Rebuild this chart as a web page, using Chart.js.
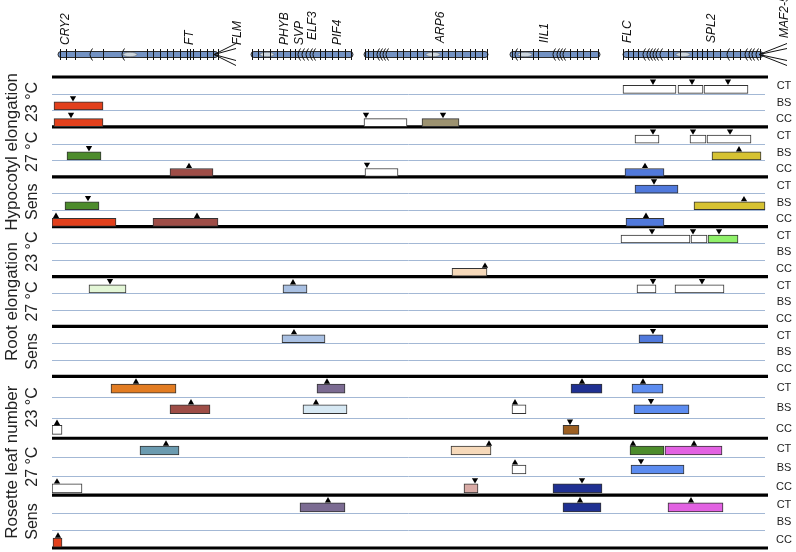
<!DOCTYPE html>
<html>
<head>
<meta charset="utf-8">
<script src="https://cdn.jsdelivr.net/npm/chart.js@4/dist/chart.umd.min.js"></script>
<style>
  body { margin: 0; background: #fff; }
  #wrap { width: 796px; height: 552px; }
</style>
</head>
<body>
<div id="wrap"><canvas id="chart" width="796" height="552"></canvas></div>
<script>
// Labels
const traits = ['Hypocotyl elongation', 'Root elongation', 'Rosette leaf number'];
const conditions = ['23 °C', '27 °C', 'Sens'];
const populations = ['CT', 'BS', 'CC'];

// Genes marked on the map (map units along the concatenated genome)
const geneNames = ['CRY2', 'FT', 'FLM', 'PHYB', 'SVP', 'ELF3', 'PIF4', 'ARP6', 'IIL1', 'FLC', 'SPL2', 'MAF2-5'];
const genePos   = [14, 138, 186, 233, 248, 261, 286, 389, 493, 576, 660, 733];
const geneLift  = [0, 0, 0, 0, 0, 5, 0, 2, 2, 2, 2, 7];

// Chromosomes
const chromStart = [6, 199, 312, 458, 571];
const chromEnd   = [166, 301, 436, 548, 711];
const centromere = [78, 215, 381, 473, 631];
const markers = [
  [8, 14, 23, 51, 95, 101, 108, 115, 121, 128, 135, 138, 141, 148, 155, 161, 166],
  [200, 206, 211, 218, 225, 231, 238, 243, 268, 273, 280, 286, 293, 299],
  [313, 316, 321, 345, 351, 358, 365, 371, 380, 390, 396, 403, 410, 418, 423, 430, 435],
  [460, 468, 481, 486, 518, 525, 531, 538, 546],
  [571, 576, 581, 586, 616, 621, 628, 640, 645, 650, 655, 661, 668, 681, 688, 708]
];
const bentMarkers = [38, 70, 246, 250, 254, 258, 261, 325, 328, 331, 334,
  463, 501, 505, 508, 511, 591, 595, 598, 601, 604, 608, 675, 693, 697, 700, 704];

// QTL: condition, population, start, end, peak, effect direction, allele
const hypocotylQTL = [
  ['23 °C', 'CT', 571, 624, 601, 'down', 'white'],
  ['23 °C', 'CT', 626, 651, 640, 'down', 'white'],
  ['23 °C', 'CT', 652, 696, 676, 'down', 'white'],
  ['23 °C', 'BS', 2, 51, 21, 'down', 'red'],
  ['23 °C', 'CC', 2, 51, 19, 'down', 'red'],
  ['23 °C', 'CC', 312, 355, 314, 'down', 'white'],
  ['23 °C', 'CC', 370, 407, 391, 'down', 'olive'],
  ['27 °C', 'CT', 583, 607, 601, 'down', 'white'],
  ['27 °C', 'CT', 638, 654, 641, 'down', 'white'],
  ['27 °C', 'CT', 655, 699, 678, 'down', 'white'],
  ['27 °C', 'BS', 15, 49, 37, 'down', 'green'],
  ['27 °C', 'BS', 660, 709, 687, 'up', 'yellow'],
  ['27 °C', 'CC', 118, 161, 137, 'up', 'brick'],
  ['27 °C', 'CC', 313, 346, 315, 'down', 'white'],
  ['27 °C', 'CC', 573, 612, 593, 'up', 'blue'],
  ['Sens', 'CT', 583, 626, 602, 'down', 'blue'],
  ['Sens', 'BS', 13, 47, 36, 'down', 'green'],
  ['Sens', 'BS', 642, 713, 692, 'up', 'yellow'],
  ['Sens', 'CC', 0, 64, 4, 'up', 'red'],
  ['Sens', 'CC', 101, 166, 145, 'up', 'brick'],
  ['Sens', 'CC', 574, 612, 594, 'up', 'blue']
];
const rootQTL = [
  ['23 °C', 'CT', 569, 638, 600, 'down', 'white'],
  ['23 °C', 'CT', 639, 655, 641, 'down', 'white'],
  ['23 °C', 'CT', 656, 686, 667, 'down', 'lime'],
  ['23 °C', 'CC', 400, 435, 433, 'up', 'peach'],
  ['27 °C', 'CT', 37, 74, 58, 'down', 'mint'],
  ['27 °C', 'CT', 231, 255, 241, 'up', 'sky'],
  ['27 °C', 'CT', 585, 604, 601, 'down', 'white'],
  ['27 °C', 'CT', 623, 672, 650, 'down', 'white'],
  ['Sens', 'CT', 230, 273, 242, 'up', 'sky'],
  ['Sens', 'CT', 587, 611, 601, 'down', 'blue']
];
const rosetteQTL = [
  ['23 °C', 'CT', 59, 124, 84, 'up', 'orange'],
  ['23 °C', 'CT', 265, 293, 275, 'up', 'mauve'],
  ['23 °C', 'CT', 519, 550, 530, 'up', 'navy'],
  ['23 °C', 'CT', 580, 611, 591, 'up', 'cornflower'],
  ['23 °C', 'BS', 118, 158, 139, 'up', 'brick'],
  ['23 °C', 'BS', 251, 295, 264, 'up', 'ice'],
  ['23 °C', 'BS', 460, 474, 463, 'up', 'white'],
  ['23 °C', 'BS', 582, 637, 599, 'down', 'cornflower'],
  ['23 °C', 'CC', 0, 10, 5, 'up', 'white'],
  ['23 °C', 'CC', 511, 527, 518, 'down', 'brown'],
  ['27 °C', 'CT', 88, 127, 114, 'up', 'teal'],
  ['27 °C', 'CT', 399, 439, 437, 'up', 'peach'],
  ['27 °C', 'CT', 578, 612, 581, 'up', 'green'],
  ['27 °C', 'CT', 613, 670, 642, 'up', 'magenta'],
  ['27 °C', 'BS', 460, 474, 463, 'up', 'white'],
  ['27 °C', 'BS', 579, 632, 589, 'down', 'cornflower'],
  ['27 °C', 'CC', 0, 30, 5, 'up', 'white'],
  ['27 °C', 'CC', 412, 426, 423, 'down', 'rose'],
  ['27 °C', 'CC', 501, 550, 530, 'down', 'navy'],
  ['Sens', 'CT', 248, 293, 276, 'up', 'mauve'],
  ['Sens', 'CT', 511, 549, 528, 'up', 'navy'],
  ['Sens', 'CT', 616, 671, 639, 'up', 'magenta'],
  ['Sens', 'CC', 1, 10, 6, 'up', 'red']
];

const alleleColours = {
  white: '#ffffff', red: '#e2401c', olive: '#9c9270', green: '#4d8c2c', yellow: '#d6c232',
  brick: '#9e4d47', blue: '#5079dc', lime: '#8ff06a', peach: '#f6d9ba', mint: '#e3f6d6',
  sky: '#a9c0e2', orange: '#e27c22', mauve: '#7b6b92', navy: '#1f3092', cornflower: '#5c8cf0',
  ice: '#d6e8f3', brown: '#9c5f22', teal: '#6b9bb0', magenta: '#e262e2', rose: '#d9aba6'
};

// Layout of the rows
const PAD = { left: 52, right: 28, top: 77, bottom: 4 };
const groupSpan = [3, 3, 3, 3, 3, 3, 3.72, 3.42, 3.18];
const groupTop = [];
let acc = 0;
groupSpan.forEach(s => { groupTop.push(acc); acc += s; });
const totalSpan = acc;
const ppu = (552 - PAD.top - PAD.bottom) / totalSpan;   // pixels per row unit
const barThick = [8, 8, 9];

function rowTop(t, c, p) {
  const g = t * 3 + c;
  return groupTop[g] + p * groupSpan[g] / 3;
}

const allQTL = [hypocotylQTL, rootQTL, rosetteQTL];
const barSets = [];
const peakPts = [], peakRot = [];
allQTL.forEach((list, t) => {
  const data = [], colours = [];
  list.forEach(q => {
    const c = conditions.indexOf(q[0]), p = populations.indexOf(q[1]);
    const yc = rowTop(t, c, p) + 12.3 / ppu;
    data.push({ y: yc, x: [q[2], q[3]] });
    colours.push(alleleColours[q[6]]);
    const top = yc - barThick[t] / 2 / ppu;
    const up = q[5] === 'up';
    peakPts.push({ x: q[4], y: top - (up ? 2.2 : 4.0) / ppu });
    peakRot.push(up ? 0 : 180);
  });
  barSets.push({
    type: 'bar',
    indexAxis: 'y',
    data: data,
    backgroundColor: colours,
    borderColor: '#333333',
    borderWidth: 1,
    borderSkipped: false,
    barThickness: barThick[t],
    grouped: false,
    order: 2
  });
});

// Grid lines, labels and the genome map
const mapPlugin = {
  id: 'mapPlugin',
  beforeDatasetsDraw(chart) {
    const ctx = chart.ctx, y = chart.scales.y;
    ctx.save();
    ctx.strokeStyle = '#a3b8d5';
    ctx.lineWidth = 1;
    groupSpan.forEach((s, g) => {
      for (let r = 1; r < 3; r++) {
        const py = Math.round(y.getPixelForValue(groupTop[g] + r * s / 3)) + 0.5;
        ctx.beginPath(); ctx.moveTo(52, py); ctx.lineTo(765, py); ctx.stroke();
      }
    });
    ctx.strokeStyle = '#000';
    ctx.lineWidth = 3.2;
    groupTop.concat([totalSpan]).forEach(v => {
      const py = y.getPixelForValue(v);
      ctx.beginPath(); ctx.moveTo(52, py); ctx.lineTo(768, py); ctx.stroke();
    });
    ctx.restore();
  },
  afterDraw(chart) {
    const ctx = chart.ctx, x = chart.scales.x, y = chart.scales.y;
    ctx.save();
    ctx.fillStyle = '#222';
    // population labels
    ctx.font = '11px "Liberation Sans", Arial, sans-serif';
    ctx.textAlign = 'center';
    ctx.textBaseline = 'middle';
    for (let t = 0; t < 3; t++) for (let c = 0; c < 3; c++) for (let p = 0; p < 3; p++) {
      const h = groupSpan[t * 3 + c] / 3;
      ctx.fillText(populations[p], 784, y.getPixelForValue(rowTop(t, c, p) + 0.55 * h));
    }
    // condition and trait labels
    for (let t = 0; t < 3; t++) {
      const g0 = t * 3;
      const tc = y.getPixelForValue(groupTop[g0] + (groupSpan[g0] + groupSpan[g0 + 1] + groupSpan[g0 + 2]) / 2);
      ctx.save();
      ctx.translate(12, tc); ctx.rotate(-Math.PI / 2);
      ctx.font = '17px "Liberation Sans", Arial, sans-serif';
      ctx.fillText(traits[t], 0, 0);
      ctx.restore();
      for (let c = 0; c < 3; c++) {
        const g = g0 + c;
        const cc = y.getPixelForValue(groupTop[g] + groupSpan[g] / 2);
        ctx.save();
        ctx.translate(33, cc); ctx.rotate(-Math.PI / 2);
        ctx.font = '16px "Liberation Sans", Arial, sans-serif';
        ctx.fillText(conditions[c], 0, 0);
        ctx.restore();
      }
    }
    // chromosomes
    const cy = 54.5;
    chromStart.forEach((s, i) => {
      const x0 = x.getPixelForValue(s), x1 = x.getPixelForValue(chromEnd[i]);
      ctx.beginPath();
      ctx.roundRect(x0, cy - 3, x1 - x0, 6, 3);
      ctx.fillStyle = '#7392c3';
      ctx.fill();
      ctx.strokeStyle = '#2a2a2a';
      ctx.lineWidth = 1;
      ctx.stroke();
      ctx.beginPath();
      ctx.ellipse(x.getPixelForValue(centromere[i]), cy, 7, 2.2, 0, 0, Math.PI * 2);
      ctx.fillStyle = '#ccd5dd';
      ctx.fill();
      ctx.strokeStyle = '#666';
      ctx.lineWidth = 0.6;
      ctx.stroke();
    });
    ctx.strokeStyle = '#111';
    ctx.lineWidth = 1;
    markers.forEach(list => list.forEach(m => {
      const px = Math.round(x.getPixelForValue(m)) + 0.5;
      ctx.beginPath(); ctx.moveTo(px, cy - 5.5); ctx.lineTo(px, cy + 5.5); ctx.stroke();
    }));
    bentMarkers.forEach(m => {
      const px = x.getPixelForValue(m);
      ctx.beginPath();
      ctx.moveTo(px + 2.5, cy - 6);
      ctx.quadraticCurveTo(px - 2.5, cy, px + 2.5, cy + 6);
      ctx.stroke();
    });
    // fans at chromosome ends
    [[0, 184], [4, 735]].forEach(([ci, to]) => {
      const x0 = x.getPixelForValue(chromEnd[ci]), x1 = x.getPixelForValue(to);
      [-11, -6, 6, 11].forEach(d => {
        ctx.beginPath(); ctx.moveTo(x0 - 4, cy); ctx.lineTo(x1, cy + d); ctx.stroke();
      });
    });
    // gene labels
    ctx.fillStyle = '#111';
    ctx.font = 'italic 12px "Liberation Sans", Arial, sans-serif';
    ctx.textAlign = 'left';
    ctx.textBaseline = 'middle';
    geneNames.forEach((g, i) => {
      ctx.save();
      ctx.translate(x.getPixelForValue(genePos[i]), 45 - geneLift[i]);
      ctx.rotate(-Math.PI / 2);
      ctx.fillText(g, 0, 0);
      ctx.restore();
    });
    ctx.restore();
  }
};

new Chart(document.getElementById('chart'), {
  data: {
    datasets: barSets.concat([{
      type: 'scatter',
      data: peakPts,
      pointStyle: 'triangle',
      pointRotation: peakRot,
      pointRadius: 3.6,
      pointBackgroundColor: '#000',
      pointBorderWidth: 0,
      order: 1
    }])
  },
  options: {
    responsive: false,
    animation: false,
    layout: { padding: PAD },
    plugins: { legend: { display: false }, tooltip: { enabled: false } },
    scales: {
      x: { type: 'linear', min: 0, max: 716, offset: false, display: false },
      y: { type: 'linear', min: 0, max: totalSpan, reverse: true, offset: false, display: false }
    }
  },
  plugins: [mapPlugin]
});
</script>
</body>
</html>
